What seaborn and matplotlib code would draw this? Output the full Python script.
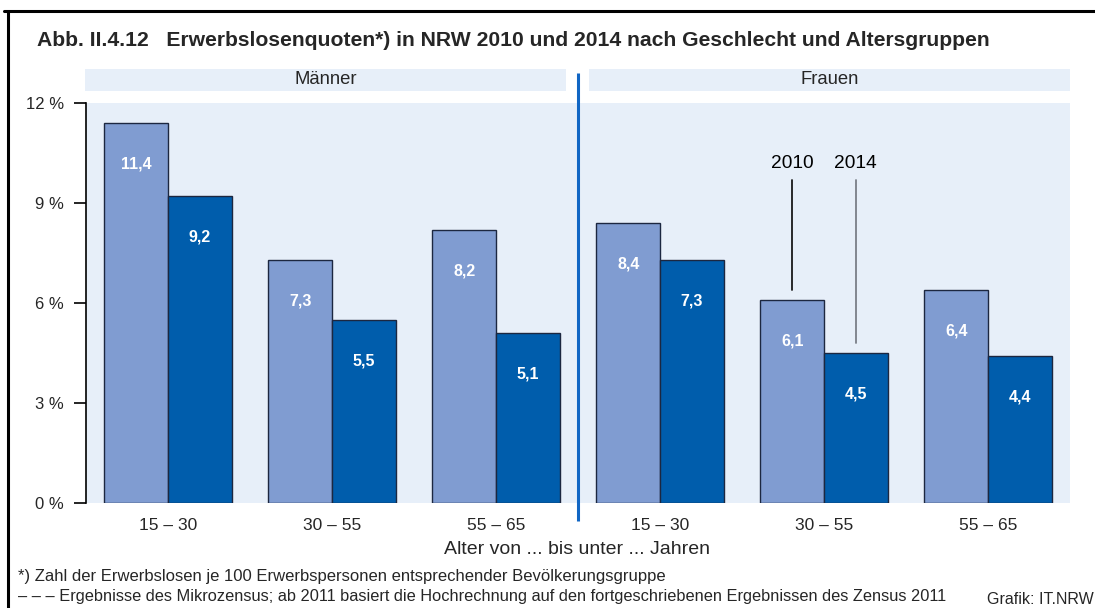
import matplotlib
matplotlib.use("Agg")
import matplotlib.pyplot as plt
import matplotlib.transforms as mtransforms
from matplotlib.patches import Rectangle
from matplotlib.lines import Line2D
import pandas as pd
import seaborn as sns

# Erwerbslosenquoten in % nach Geschlecht und Altersgruppe
geschlecht = ["Männer", "Männer", "Männer", "Frauen", "Frauen", "Frauen"]
altersgruppen = ["15 – 30", "30 – 55", "55 – 65", "15 – 30", "30 – 55", "55 – 65"]
quote_2010 = [11.4, 7.3, 8.2, 8.4, 6.1, 6.4]
quote_2014 = [9.2, 5.5, 5.1, 7.3, 4.5, 4.4]
jahre = ["2010", "2014"]
y_ticks = [0, 3, 6, 9, 12]

gruppen = [f"{g} {a}" for g, a in zip(geschlecht, altersgruppen)]
df = pd.DataFrame({
    "gruppe": gruppen * 2,
    "jahr": [jahre[0]] * len(gruppen) + [jahre[1]] * len(gruppen),
    "quote": quote_2010 + quote_2014,
})

HELL = "#809CD1"
DUNKEL = "#005DAC"
HINTERGRUND = "#E7EFF9"
KANTE = "#1C2740"
TRENNLINIE = "#1166C4"

sns.set_style("white")
plt.rcParams["font.family"] = ["Liberation Sans", "DejaVu Sans"]

W, H = 1095, 608
fig = plt.figure(figsize=(W / 100, H / 100), dpi=100)
ax = fig.add_axes([86 / W, 105 / H, 984 / W, 400 / H])
ax.set_facecolor(HINTERGRUND)

sns.barplot(data=df, x="gruppe", y="quote", hue="jahr", order=gruppen,
            hue_order=jahre, palette=[HELL, DUNKEL], saturation=1,
            width=0.775, edgecolor=KANTE, linewidth=1, legend=False, ax=ax)

ax.set_xlim(-0.5, 5.5)
ax.set_ylim(0, 12)
ax.set_yticks(y_ticks)
ax.set_yticklabels([f"{t} %" for t in y_ticks], fontsize=12)
ax.set_xticks(range(len(altersgruppen)))
ax.set_xticklabels(altersgruppen, fontsize=12.5)
ax.tick_params(axis="y", length=9, width=1.2, pad=7, color="black", direction="out", left=True)
ax.tick_params(axis="x", length=0, pad=10.5)
ax.set_xlabel("")
ax.set_ylabel("")
for s in ["top", "right", "bottom"]:
    ax.spines[s].set_visible(False)
ax.spines["left"].set_color("black")
ax.spines["left"].set_linewidth(1.2)

# Wertebeschriftungen in den Balken
balken = {j: list(c) for j, c in zip(jahre, ax.containers)}
for j in jahre:
    for p in balken[j]:
        x = p.get_x() + p.get_width() / 2
        v = p.get_height()
        ax.annotate(f"{v:.1f}".replace(".", ","), (x, v), xytext=(0, -29.5),
                    textcoords="offset points", ha="center", va="center",
                    color="white", fontsize=11.5, fontweight="bold")

# Legendenersatz: Jahreszahlen über den Balken "Frauen 30 – 55"
idx = gruppen.index("Frauen 30 – 55")
for j, farbe in zip(jahre, ["#1a1a1a", "#7a7f88"]):
    p = balken[j][idx]
    x = p.get_x() + p.get_width() / 2
    ax.plot([x, x], [p.get_height() + 0.3, 9.7], color=farbe, lw=1.3)
    ax.text(x, 10.2, j, ha="center", va="center", fontsize=13.8, color="black")

# Kopfstreifen und Trennlinie
trans = mtransforms.blended_transform_factory(ax.transData, ax.transAxes)
for x0, x1, name in [(-0.506, 2.427, "Männer"), (2.567, 5.5, "Frauen")]:
    ax.add_patch(Rectangle((x0, 1.03), x1 - x0, 0.055, transform=trans,
                           facecolor=HINTERGRUND, edgecolor="none", clip_on=False))
    ax.text((x0 + x1) / 2, 1.0575, name, transform=trans, ha="center",
            va="center", fontsize=13.3)
ax.plot([2.5, 2.5], [-0.045, 1.075], transform=trans, color=TRENNLINIE,
        lw=2.2, clip_on=False, solid_capstyle="butt")

# Titel, Achsentitel und Fußnoten
fig.text(37 / W, 1 - 40 / H,
         "Abb. II.4.12   Erwerbslosenquoten*) in NRW 2010 und 2014 nach Geschlecht und Altersgruppen",
         fontsize=15.2, fontweight="bold", ha="left", va="center")
fig.text(577 / W, 1 - 549 / H, "Alter von ... bis unter ... Jahren",
         fontsize=14, ha="center", va="center")
fig.text(18 / W, 1 - 577 / H,
         "*) Zahl der Erwerbslosen je 100 Erwerbspersonen entsprechender Bevölkerungsgruppe",
         fontsize=12, ha="left", va="center")
fig.text(18 / W, 1 - 597 / H,
         "– – – Ergebnisse des Mikrozensus; ab 2011 basiert die Hochrechnung auf den fortgeschriebenen Ergebnissen des Zensus 2011",
         fontsize=11.8, ha="left", va="center")
fig.text(1094 / W, 1 - 599 / H, "Grafik: IT.NRW", fontsize=11.5,
         ha="right", va="center")

# Rahmen
fig.add_artist(Line2D([4 / W, 1], [1 - 10.5 / H] * 2, color="black", lw=2.2))
fig.add_artist(Line2D([8 / W] * 2, [0, 1 - 10.5 / H], color="black", lw=2.2))

fig.savefig("out.png", dpi=100)
